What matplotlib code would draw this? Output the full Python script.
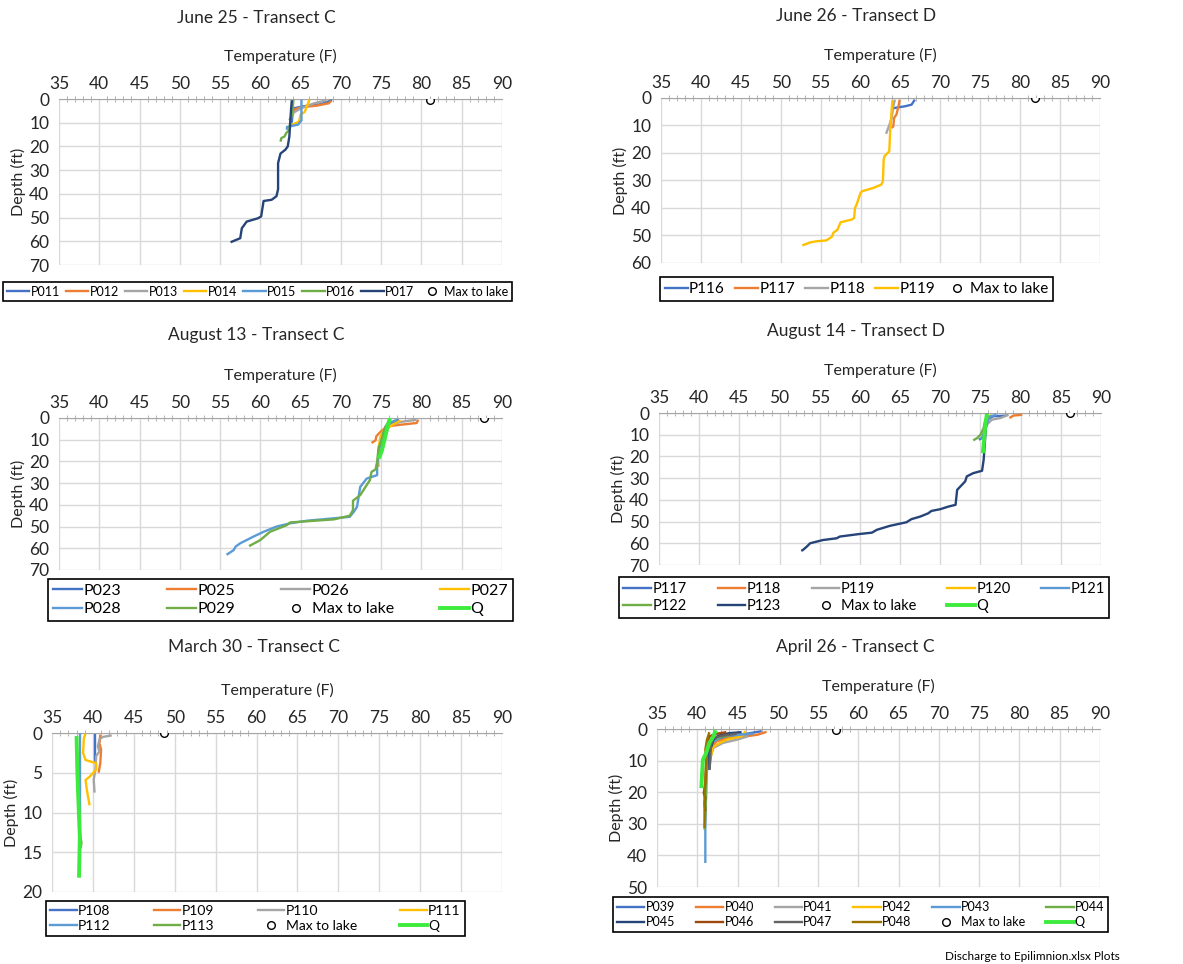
import matplotlib.pyplot as plt
from matplotlib.ticker import MultipleLocator
from matplotlib.lines import Line2D

plt.rcParams['font.family'] = ['Lato', 'DejaVu Sans']

# ---- June 25 - Transect C
jun25_p011_t = [68.9, 67.5, 65.5, 64.3, 64.0, 63.9]
jun25_p011_d = [0.5, 2.2, 3.0, 3.8, 6.0, 10.0]
jun25_p012_t = [68.8, 68.5, 67.0, 65.0, 64.2, 64.0]
jun25_p012_d = [0.8, 1.8, 2.8, 3.5, 4.5, 7.0]
jun25_p013_t = [68.2, 66.5, 65.0, 64.0, 63.6]
jun25_p013_d = [0.5, 2.0, 4.0, 6.0, 9.0]
jun25_p014_t = [66.1, 65.9, 65.5, 65.0, 64.8, 64.2, 63.8]
jun25_p014_d = [0.3, 2.0, 5.5, 6.5, 9.5, 10.5, 11.0]
jun25_p015_t = [65.1, 65.1, 65.1, 64.7, 64.0, 63.3, 63.3]
jun25_p015_d = [0.3, 5.0, 9.0, 10.8, 11.3, 11.8, 13.0]
jun25_p016_t = [64.1, 64.0, 63.7, 63.6, 63.2, 63.0, 62.6, 62.5]
jun25_p016_d = [0.3, 5.0, 10.0, 13.0, 14.4, 15.8, 16.5, 18.0]
jun25_p017_t = [63.9, 63.8, 63.6, 63.4, 63.1, 62.5, 62.2, 62.2, 62.0, 61.4, 60.4,
                60.1, 59.7, 58.3, 57.7, 57.5, 56.3]
jun25_p017_d = [0.5, 5.0, 15.8, 20.0, 21.4, 23.0, 27.0, 38.0, 41.0, 42.5, 43.0,
                49.5, 50.3, 51.7, 54.5, 58.7, 60.4]
jun25_lake = (81.1, 0.3)

# ---- June 26 - Transect D
jun26_p116_t = [66.8, 66.4, 65.6, 64.3, 63.9]
jun26_p116_d = [0.6, 2.4, 3.0, 3.6, 4.0]
jun26_p117_t = [64.9, 64.8, 64.5, 64.2, 64.1, 63.9]
jun26_p117_d = [0.6, 2.4, 6.0, 7.3, 10.3, 10.9]
jun26_p118_t = [64.3, 64.1, 63.9, 63.7, 63.2]
jun26_p118_d = [0.6, 3.0, 7.3, 9.1, 13.0]
jun26_p119_t = [64.0, 63.9, 63.7, 63.6, 63.4, 63.0, 62.9, 62.8, 62.6, 61.6, 60.2,
                60.0, 59.5, 59.3, 59.2, 58.9, 57.5, 57.1, 56.6, 56.4, 55.7, 54.5,
                53.7, 52.7]
jun26_p119_d = [0.8, 4.2, 12.7, 19.4, 20.0, 21.2, 22.4, 30.3, 31.5, 32.7, 33.9,
                34.5, 38.8, 40.0, 43.6, 44.2, 45.2, 47.9, 49.0, 50.5, 51.8, 52.1,
                52.5, 53.6]
jun26_lake = (81.9, 0.0)

# ---- August 13 - Transect C
aug13_p023_t = [77.2, 76.5, 75.7, 75.3, 74.9, 74.6]
aug13_p023_d = [0.8, 2.3, 4.1, 8.7, 11.8, 16.4]
aug13_p025_t = [79.6, 79.4, 77.4, 75.9, 75.1, 74.7, 74.4, 74.3, 73.8]
aug13_p025_d = [0.8, 2.3, 3.1, 3.8, 5.7, 7.2, 8.4, 10.3, 11.5]
aug13_p026_t = [79.4, 77.4, 76.1, 75.7, 75.3]
aug13_p026_d = [0.8, 1.8, 3.4, 5.7, 8.7]
aug13_p027_t = [77.4, 76.3, 75.3, 74.9, 74.7, 74.6, 74.7]
aug13_p027_d = [1.1, 3.4, 5.7, 8.7, 13.3, 17.9, 22.5]
aug13_p028_t = [77.0, 76.3, 75.5, 75.1, 74.7, 74.5, 74.5, 73.2, 72.4, 72.2, 72.0,
                71.6, 71.1, 69.1, 65.8, 63.7, 62.0, 60.4, 59.1, 57.5, 56.9, 56.7,
                55.8]
aug13_p028_d = [0.8, 1.8, 4.1, 10.3, 14.9, 22.5, 26.3, 27.9, 31.7, 36.3, 40.9,
                43.2, 45.5, 46.2, 47.3, 48.5, 50.0, 52.4, 54.7, 57.7, 59.3, 60.8,
                63.0]
aug13_p029_t = [76.0, 75.4, 74.9, 74.7, 74.5, 74.3, 73.8, 73.6, 72.8, 72.4, 71.5,
                71.5, 71.1, 69.1, 63.7, 63.3, 61.2, 60.0, 58.6]
aug13_p029_d = [1.0, 5.0, 11.8, 13.3, 20.2, 23.7, 24.8, 28.6, 33.2, 35.5, 38.1,
                42.4, 45.0, 46.7, 48.1, 49.3, 52.4, 56.2, 59.0]
aug13_q_t = [76.1, 75.9, 75.5, 75.1, 74.7]
aug13_q_d = [0.0, 2.6, 8.7, 14.9, 18.7]
aug13_lake = (87.8, 0.0)

# ---- August 14 - Transect D
aug14_p117_t = [78.3, 76.6, 76.2, 75.8, 75.6, 75.2, 74.8]
aug14_p117_d = [1.2, 1.5, 2.3, 3.1, 7.7, 11.5, 12.3]
aug14_p118_t = [80.2, 79.1, 78.6]
aug14_p118_d = [0.8, 1.2, 2.3]
aug14_p119_t = [78.5, 77.5, 76.4, 75.8, 75.6]
aug14_p119_d = [0.8, 2.3, 3.1, 5.4, 7.7]
aug14_p120_t = [76.4, 76.0, 75.6, 75.4]
aug14_p120_d = [0.8, 2.3, 5.4, 9.2]
aug14_p121_t = [77.0, 76.2, 75.8, 75.4, 75.0]
aug14_p121_d = [0.8, 1.5, 4.6, 10.8, 12.0]
aug14_p122_t = [76.0, 75.6, 75.4, 75.0, 74.6, 74.1]
aug14_p122_d = [1.2, 3.1, 6.9, 10.0, 11.5, 12.6]
aug14_p123_t = [75.8, 75.6, 75.4, 75.2, 74.1, 73.3, 73.1, 72.1, 71.9, 71.0, 70.0,
                68.9, 68.5, 67.5, 66.4, 65.8, 63.7, 62.1, 61.5, 60.0, 57.5, 57.1,
                55.4, 53.8, 53.4, 52.9, 52.7]
aug14_p123_d = [0.3, 10.8, 21.5, 26.6, 27.7, 29.2, 31.5, 35.4, 42.3, 43.1, 44.3,
                45.1, 46.2, 47.7, 48.9, 50.3, 52.0, 53.8, 55.1, 55.7, 56.9, 57.7,
                58.5, 60.0, 61.5, 63.1, 63.5]
aug14_q_t = [75.8, 75.6, 75.3]
aug14_q_d = [0.3, 6.2, 18.5]
aug14_lake = (86.1, 0.0)

# ---- March 30 - Transect C
mar30_p108_t = [40.3, 40.3]
mar30_p108_d = [0.1, 3.8]
mar30_p109_t = [40.9, 40.8, 41.0, 40.9, 40.7]
mar30_p109_d = [0.2, 1.3, 2.1, 3.8, 5.0]
mar30_p110_t = [42.3, 41.2, 40.8, 40.6, 40.8, 40.4, 40.3, 40.1, 40.2]
mar30_p110_d = [0.3, 0.5, 0.8, 1.7, 2.3, 2.9, 4.6, 5.9, 7.5]
mar30_p111_t = [39.1, 38.9, 38.8, 39.1, 40.4, 40.4, 39.6, 39.1, 39.2, 39.4, 39.6]
mar30_p111_d = [0.1, 0.6, 2.5, 3.4, 3.8, 4.6, 5.5, 5.9, 6.7, 8.0, 9.1]
mar30_p112_t = [38.4, 38.4]
mar30_p112_d = [0.0, 14.3]
mar30_p113_t = [38.0, 38.2, 38.4, 38.6, 38.5]
mar30_p113_d = [0.4, 8.0, 12.6, 13.8, 14.5]
mar30_q_t = [38.0, 38.1, 38.3, 38.4, 38.3]
mar30_q_d = [0.4, 5.0, 10.5, 13.0, 18.2]
mar30_lake = (48.7, 0.0)

# ---- April 26 - Transect C
apr26_p039_t = [48.0, 46.1, 44.0, 42.4, 41.5, 41.3]
apr26_p039_d = [0.7, 1.5, 2.3, 3.4, 5.5, 8.6]
apr26_p040_t = [48.6, 47.5, 46.1, 44.0, 42.4, 41.7, 41.5]
apr26_p040_d = [0.9, 1.8, 2.3, 2.8, 3.9, 6.0, 8.6]
apr26_p041_t = [46.3, 44.9, 43.2, 42.0, 41.7, 41.5]
apr26_p041_d = [2.3, 3.4, 4.4, 6.0, 8.6, 12.9]
apr26_p042_t = [46.0, 45.5, 43.6, 42.4, 41.9, 41.7]
apr26_p042_d = [0.7, 2.3, 3.4, 5.0, 6.0, 8.6]
apr26_p043_t = [46.9, 45.3, 43.2, 41.7, 41.3, 41.1, 41.0, 41.0]
apr26_p043_d = [1.5, 1.8, 2.3, 4.4, 10.8, 16.0, 31.9, 42.4]
apr26_p044_t = [44.0, 42.8, 42.0, 41.3, 41.2, 41.1, 41.0, 40.9]
apr26_p044_d = [2.1, 2.5, 3.4, 6.5, 10.8, 21.3, 27.6, 31.9]
apr26_p045_t = [45.5, 44.0, 42.6, 42.0, 41.5, 41.5]
apr26_p045_d = [1.0, 1.3, 2.1, 3.4, 7.6, 12.9]
apr26_p046_t = [43.6, 42.4, 41.5, 41.2, 41.1, 41.0, 40.8, 41.0, 40.9, 41.0]
apr26_p046_d = [1.0, 1.5, 2.3, 5.5, 10.8, 17.1, 20.3, 21.8, 23.4, 26.0]
apr26_p047_t = [44.9, 43.2, 42.0, 41.7, 41.6, 41.5]
apr26_p047_d = [1.5, 2.1, 2.8, 5.0, 9.7, 12.9]
apr26_p048_t = [41.5, 41.2, 41.0, 41.1, 41.0, 40.9, 40.9, 40.9]
apr26_p048_d = [1.0, 3.4, 6.5, 10.8, 16.0, 21.3, 26.6, 31.3]
apr26_q_t = [42.3, 42.0, 41.5, 41.1, 40.7, 40.6, 40.5]
apr26_q_d = [0.4, 2.3, 4.4, 7.6, 9.7, 13.9, 18.7]
apr26_lake = (57.2, 0.2)

BLUE, ORANGE, GRAY, YELLOW = '#4472C4', '#ED7D31', '#A5A5A5', '#FFC000'
LBLUE, GREEN, NAVY, BROWN = '#5B9BD5', '#70AD47', '#264478', '#9E480E'
DGRAY, OLIVE, QGREEN = '#636363', '#997300', '#3DEB3D'

W, H = 1183, 964
fig = plt.figure(figsize=(W / 100, H / 100), dpi=100)


def fr(x0, y0, x1, y1):
    # pixel box -> figure fraction
    return [x0 / W, 1 - y1 / H, (x1 - x0) / W, (y1 - y0) / H]


def panel(box, title, tx, ty, series, lake, dmax, dstep, legbox, ncol, order, lfs, hl):
    ax = fig.add_axes(fr(*box))
    handles = {}
    for name, t, d, c in series:
        lw = 2.8 if name == 'Q' else 1.7
        ax.plot(t, d, color=c, lw=lw, solid_capstyle='butt', zorder=3)
        handles[name] = Line2D([], [], color=c, lw=lw)
    ax.plot([lake[0]], [lake[1]], 'o', mfc='white', mec='black', ms=5.5, mew=1, zorder=4)
    handles['Max to lake'] = Line2D([], [], ls='none', marker='o', mfc='white',
                                    mec='black', ms=5.5, mew=1)
    ax.set_xlim(35, 90)
    ax.set_ylim(dmax, 0)
    ax.xaxis.set_major_locator(MultipleLocator(5))
    ax.xaxis.set_minor_locator(MultipleLocator(1))
    ax.yaxis.set_major_locator(MultipleLocator(dstep))
    ax.xaxis.tick_top()
    ax.xaxis.set_label_position('top')
    ax.tick_params(axis='x', which='major', length=0, labelsize=12.5, pad=5, colors='#262626')
    ax.tick_params(axis='x', which='minor', direction='inout', length=5, color='#A6A6A6')
    ax.tick_params(axis='y', length=0, labelsize=12.5, pad=7, colors='#262626')
    ax.grid(True, which='major', color='#D9D9D9', lw=1, zorder=0)
    for s in ['left', 'right', 'bottom']:
        ax.spines[s].set_visible(False)
    ax.spines['top'].set_color('#A6A6A6')
    ax.set_xlabel('Temperature (F)', fontsize=11.5, labelpad=11, color='#262626')
    ax.set_ylabel('Depth (ft)', fontsize=11.5, labelpad=2, color='#262626')
    fig.text(tx / W, 1 - ty / H, title, fontsize=12.5, ha='center', va='center',
             color='#262626')
    leg = ax.legend([handles[k] for k in order], order, loc='center',
                    bbox_to_anchor=fr(*legbox), bbox_transform=fig.transFigure,
                    mode='expand', ncol=ncol, fancybox=False, edgecolor='black',
                    borderaxespad=0, handlelength=hl, handletextpad=0.1,
                    fontsize=lfs, borderpad=0.3, labelspacing=0.25, framealpha=1)
    leg.get_frame().set_linewidth(1.2)
    return ax


panel((59, 99, 502, 265), 'June 25 - Transect C', 256, 18,
      [('P011', jun25_p011_t, jun25_p011_d, BLUE),
       ('P012', jun25_p012_t, jun25_p012_d, ORANGE),
       ('P013', jun25_p013_t, jun25_p013_d, GRAY),
       ('P014', jun25_p014_t, jun25_p014_d, YELLOW),
       ('P015', jun25_p015_t, jun25_p015_d, LBLUE),
       ('P016', jun25_p016_t, jun25_p016_d, GREEN),
       ('P017', jun25_p017_t, jun25_p017_d, NAVY)],
      jun25_lake, 70, 10, (3, 278, 512, 305), 8,
      ['P011', 'P012', 'P013', 'P014', 'P015', 'P016', 'P017', 'Max to lake'], 9, 1.8)

panel((661, 98, 1100, 263), 'June 26 - Transect D', 856, 16,
      [('P116', jun26_p116_t, jun26_p116_d, BLUE),
       ('P117', jun26_p117_t, jun26_p117_d, ORANGE),
       ('P118', jun26_p118_t, jun26_p118_d, GRAY),
       ('P119', jun26_p119_t, jun26_p119_d, YELLOW)],
      jun26_lake, 60, 10, (660, 275, 1053, 303), 5,
      ['P116', 'P117', 'P118', 'P119', 'Max to lake'], 11, 1.5)

panel((59, 418, 502, 570), 'August 13 - Transect C', 256, 335,
      [('P023', aug13_p023_t, aug13_p023_d, BLUE),
       ('P025', aug13_p025_t, aug13_p025_d, ORANGE),
       ('P026', aug13_p026_t, aug13_p026_d, GRAY),
       ('P027', aug13_p027_t, aug13_p027_d, YELLOW),
       ('P028', aug13_p028_t, aug13_p028_d, LBLUE),
       ('P029', aug13_p029_t, aug13_p029_d, GREEN),
       ('Q', aug13_q_t, aug13_q_d, QGREEN)],
      aug13_lake, 70, 10, (48, 578, 513, 622), 4,
      ['P023', 'P028', 'P025', 'P029', 'P026', 'Max to lake', 'P027', 'Q'], 11.5, 1.8)

panel((659, 413, 1101, 565), 'August 14 - Transect D', 856, 331,
      [('P117', aug14_p117_t, aug14_p117_d, BLUE),
       ('P118', aug14_p118_t, aug14_p118_d, ORANGE),
       ('P119', aug14_p119_t, aug14_p119_d, GRAY),
       ('P120', aug14_p120_t, aug14_p120_d, YELLOW),
       ('P121', aug14_p121_t, aug14_p121_d, LBLUE),
       ('P122', aug14_p122_t, aug14_p122_d, GREEN),
       ('P123', aug14_p123_t, aug14_p123_d, NAVY),
       ('Q', aug14_q_t, aug14_q_d, QGREEN)],
      aug14_lake, 70, 10, (619, 577, 1109, 618), 5,
      ['P117', 'P122', 'P118', 'P123', 'P119', 'Max to lake', 'P120', 'Q', 'P121'], 10.5, 1.9)

panel((52, 733, 502, 892), 'March 30 - Transect C', 254, 647,
      [('P108', mar30_p108_t, mar30_p108_d, BLUE),
       ('P109', mar30_p109_t, mar30_p109_d, ORANGE),
       ('P110', mar30_p110_t, mar30_p110_d, GRAY),
       ('P111', mar30_p111_t, mar30_p111_d, YELLOW),
       ('P112', mar30_p112_t, mar30_p112_d, LBLUE),
       ('P113', mar30_p113_t, mar30_p113_d, GREEN),
       ('Q', mar30_q_t, mar30_q_d, QGREEN)],
      mar30_lake, 20, 5, (46, 902, 465, 935), 4,
      ['P108', 'P112', 'P109', 'P113', 'P110', 'Max to lake', 'P111', 'Q'], 10, 1.9)

panel((657, 729, 1100, 887), 'April 26 - Transect C', 855, 647,
      [('P039', apr26_p039_t, apr26_p039_d, BLUE),
       ('P040', apr26_p040_t, apr26_p040_d, ORANGE),
       ('P041', apr26_p041_t, apr26_p041_d, GRAY),
       ('P042', apr26_p042_t, apr26_p042_d, YELLOW),
       ('P043', apr26_p043_t, apr26_p043_d, LBLUE),
       ('P044', apr26_p044_t, apr26_p044_d, GREEN),
       ('P045', apr26_p045_t, apr26_p045_d, NAVY),
       ('P046', apr26_p046_t, apr26_p046_d, BROWN),
       ('P047', apr26_p047_t, apr26_p047_d, DGRAY),
       ('P048', apr26_p048_t, apr26_p048_d, OLIVE),
       ('Q', apr26_q_t, apr26_q_d, QGREEN)],
      apr26_lake, 50, 10, (613, 894, 1108, 935), 6,
      ['P039', 'P045', 'P040', 'P046', 'P041', 'P047', 'P042', 'P048',
       'P043', 'Max to lake', 'P044', 'Q'], 9, 2.2)

fig.text(945 / W, 1 - 956 / H, 'Discharge to Epilimnion.xlsx Plots', fontsize=8.5,
         ha='left', va='center')

fig.savefig('out.png', dpi=100)
